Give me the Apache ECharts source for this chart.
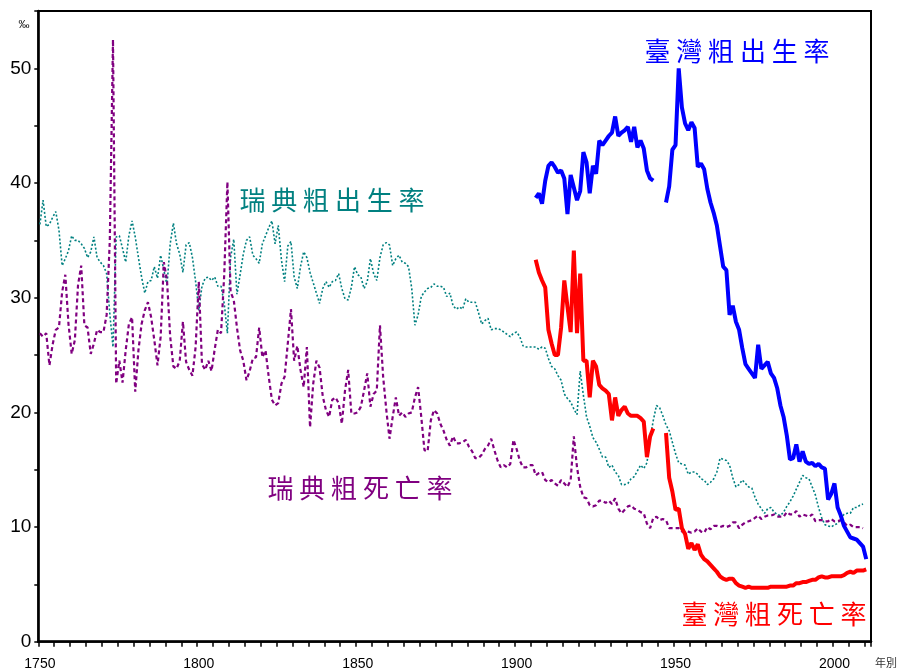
<!DOCTYPE html>
<html><head><meta charset="utf-8">
<script src="https://cdn.jsdelivr.net/npm/echarts@6/dist/echarts.min.js"></script>
<style>html,body{margin:0;padding:0;background:#fff}#c{width:899px;height:671px}</style>
</head><body><div id="c"></div>
<script>
// ---- categories (years) ----
const firstYear = 1750;
const lastYear = 2011;

// ---- Sweden crude birth rate (per mille), 1750-2009 ----
const swedenStart = 1750;
const swedenBirth = [
  36.4, 38.5, 36.2, 36.4, 37.0, 37.5, 35.9, 32.8, 33.4, 34.1,
  35.4, 35.0, 35.0, 34.7, 34.3, 33.5, 34.0, 35.3, 33.5, 33.1,
  32.8, 32.1, 28.6, 25.7, 35.3, 35.4, 34.3, 33.1, 35.4, 36.7,
  35.3, 33.5, 31.8, 30.4, 31.4, 31.5, 32.7, 31.7, 33.7, 32.4,
  31.1, 34.7, 36.5, 34.7, 33.8, 32.2, 34.6, 34.8, 33.5, 31.4,
  28.9, 31.0, 31.7, 31.8, 31.5, 31.8, 31.0, 31.0, 29.5, 26.9,
  33.5, 35.1, 30.3, 32.0, 33.8, 35.0, 35.3, 33.7, 33.4, 33.0,
  34.7, 35.4, 36.1, 36.7, 34.7, 36.3, 33.3, 31.4, 34.5, 34.9,
  31.8, 30.8, 32.7, 34.0, 33.5, 32.2, 31.3, 30.4, 29.5, 30.8,
  31.4, 30.9, 31.4, 31.5, 32.1, 30.8, 29.9, 29.8, 30.9, 32.7,
  32.0, 31.8, 30.8, 31.4, 33.4, 32.1, 31.5, 33.5, 34.6, 34.8,
  34.6, 32.8, 33.4, 33.7, 33.1, 33.0, 32.7, 30.8, 27.6, 28.5,
  30.1, 30.5, 30.8, 30.9, 31.2, 31.0, 31.0, 30.9, 30.1, 30.4,
  29.3, 29.0, 29.2, 29.0, 29.9, 29.6, 29.6, 29.6, 28.7, 27.7,
  28.0, 28.2, 27.2, 27.3, 27.3, 27.2, 27.0, 26.8, 26.6, 26.9,
  27.0, 26.6, 25.8, 25.7, 25.7, 25.7, 25.7, 25.5, 25.7, 25.6,
  24.7, 24.0, 23.8, 23.2, 22.8, 21.6, 21.2, 20.9, 20.3, 19.8,
  23.6, 21.5, 19.6, 18.8, 17.8, 17.4, 16.8, 16.1, 16.1, 15.2,
  15.4, 14.8, 14.5, 13.7, 13.7, 13.8, 14.2, 14.4, 14.9, 15.4,
  15.1, 15.6, 17.7, 19.3, 20.6, 20.4, 19.7, 18.9, 18.4, 17.4,
  16.4, 15.6, 15.5, 15.4, 14.6, 14.8, 14.8, 14.6, 14.2, 14.1,
  13.7, 13.9, 14.2, 14.8, 16.0, 15.9, 15.8, 15.4, 14.3, 13.5,
  13.7, 14.1, 13.8, 13.5, 13.4, 12.6, 12.0, 11.6, 11.2, 11.6,
  11.7, 11.3, 11.1, 11.0, 11.3, 11.8, 12.2, 12.7, 13.3, 13.9,
  14.5, 14.3, 14.2, 13.5, 12.8, 11.7, 10.8, 10.2, 10.1, 10.0,
  10.2, 10.3, 10.7, 11.1, 11.2, 11.2, 11.7, 11.7, 11.9, 12.0
];

// ---- Sweden crude death rate (per mille), 1750-2009 ----
const swedenDeath = [
  26.9, 26.6, 26.9, 24.1, 25.9, 27.2, 27.4, 30.5, 32.0, 27.7,
  25.1, 26.3, 31.1, 32.8, 27.6, 27.4, 25.1, 26.0, 27.2, 27.0,
  27.0, 28.5, 35.0, 52.5, 22.5, 24.5, 22.6, 25.4, 27.7, 28.3,
  21.8, 25.4, 27.7, 28.9, 29.6, 28.3, 26.3, 24.1, 26.6, 33.1,
  31.5, 26.6, 24.0, 23.8, 24.5, 27.9, 24.4, 23.7, 23.2, 25.7,
  31.4, 24.2, 23.7, 24.5, 23.6, 25.5, 27.2, 26.9, 32.0, 40.1,
  30.5, 29.8, 27.4, 25.4, 24.5, 22.8, 23.6, 24.7, 24.8, 27.4,
  24.8, 25.4, 23.1, 21.1, 20.6, 20.8, 22.5, 23.1, 26.0, 29.0,
  24.5, 25.8, 23.7, 22.2, 25.7, 18.7, 22.5, 24.5, 23.9, 21.4,
  20.2, 19.6, 21.1, 21.3, 20.8, 19.0, 21.9, 23.7, 19.9, 19.9,
  20.0, 20.5, 21.9, 23.4, 20.5, 21.6, 21.9, 27.6, 23.1, 20.2,
  17.7, 19.6, 21.3, 19.7, 20.0, 19.6, 19.9, 20.0, 21.3, 22.2,
  19.6, 16.7, 16.6, 19.3, 20.2, 19.9, 19.0, 18.4, 17.6, 17.1,
  17.9, 17.3, 17.3, 17.4, 17.6, 17.0, 16.6, 16.0, 16.0, 16.3,
  16.8, 17.1, 17.7, 16.7, 15.8, 15.2, 15.4, 15.2, 15.5, 17.6,
  16.8, 15.8, 15.2, 15.2, 15.4, 15.4, 14.5, 14.7, 14.8, 14.1,
  13.9, 14.1, 13.8, 13.6, 14.1, 13.8, 13.5, 14.1, 17.9, 15.2,
  13.5, 12.6, 12.5, 11.9, 11.8, 11.9, 12.3, 12.3, 12.1, 12.3,
  12.0, 12.5, 11.6, 11.2, 11.5, 11.8, 11.9, 11.6, 11.5, 11.3,
  11.2, 10.3, 9.9, 10.8, 10.9, 10.6, 10.7, 10.6, 9.9, 9.9,
  9.9, 9.9, 9.6, 9.7, 9.6, 9.5, 9.6, 9.9, 9.6, 9.5,
  10.0, 9.8, 10.1, 10.1, 10.0, 10.1, 10.0, 10.1, 10.4, 10.4,
  9.9, 10.2, 10.4, 10.5, 10.6, 10.8, 11.0, 10.7, 10.9, 11.0,
  11.0, 11.1, 10.9, 10.9, 10.9, 11.3, 11.1, 11.1, 11.4, 10.9,
  11.1, 11.0, 10.9, 11.1, 10.5, 10.6, 10.6, 10.5, 10.5, 10.7,
  10.5, 10.5, 10.6, 10.4, 10.1, 10.2, 10.0, 10.0, 10.0, 9.9
];

// ---- Taiwan, 1906-1943 ----
const taiwanPrewarStart = 1906;
const taiwanBirthPrewar = [
  38.7, 39.1, 38.2, 40.2, 41.5, 41.8, 41.4, 40.9, 41.1, 40.4,
  37.3, 40.7, 39.6, 38.5, 39.3, 42.7, 41.8, 39.1, 41.5, 40.8,
  43.7, 43.3, 43.7, 44.1, 44.4, 45.8, 44.1, 44.4, 44.6, 44.9,
  43.6, 44.9, 43.1, 43.7, 43.0, 41.1, 40.4, 40.2
];
const taiwanDeathPrewar = [
  33.3, 32.2, 31.5, 30.9, 27.2, 26.0, 25.0, 25.0, 27.4, 31.5,
  29.2, 27.0, 34.1, 26.9, 32.1, 24.5, 24.5, 21.3, 24.5, 24.0,
  22.4, 22.1, 21.9, 21.6, 19.3, 21.3, 19.7, 20.2, 20.5, 19.9,
  19.7, 19.7, 19.7, 19.5, 19.2, 16.1, 17.9, 18.6
];

// ---- Taiwan, 1947-2010 ----
const taiwanPostwarStart = 1947;
const taiwanBirthPostwar = [
  38.3, 39.7, 42.9,
  43.3, 50.0, 46.6, 45.2, 44.6, 45.3, 44.8, 41.4, 41.7, 41.2,
  39.5, 38.3, 37.4, 36.3, 34.5, 32.7, 32.4, 28.5, 29.3, 27.9,
  27.2, 25.6, 24.2, 23.8, 23.4, 23.0, 25.9, 23.8, 24.1, 24.4,
  23.4, 23.0, 22.1, 20.6, 19.6, 18.0, 15.9, 16.0, 17.2, 15.7,
  16.6, 15.7, 15.5, 15.6, 15.3, 15.5, 15.2, 15.1, 12.4, 12.9,
  13.8, 11.7, 11.0, 10.1, 9.6, 9.1, 9.0, 8.9, 8.6, 8.3,
  7.2
];
const taiwanDeathPostwar = [
  18.2, 14.3, 13.1,
  11.5, 11.6, 9.9, 9.4, 8.1, 8.6, 8.0, 8.5, 7.6, 7.2,
  7.0, 6.7, 6.4, 6.1, 5.7, 5.5, 5.4, 5.5, 5.5, 5.1,
  4.9, 4.8, 4.7, 4.8, 4.7, 4.7, 4.7, 4.7, 4.7, 4.7,
  4.8, 4.8, 4.8, 4.8, 4.8, 4.8, 4.9, 4.9, 5.1, 5.1,
  5.2, 5.2, 5.3, 5.4, 5.4, 5.6, 5.7, 5.6, 5.6, 5.7,
  5.7, 5.7, 5.7, 5.8, 6.0, 6.1, 6.0, 6.2, 6.2, 6.2,
  6.3
];

// ---- texts ----
const seriesNames = ['瑞典粗出生率', '瑞典粗死亡率', '臺灣粗出生率', '臺灣粗死亡率'];
const yUnit = '‰';
const xUnit = '年別';

// ---- build aligned data ----
const years = [];
for (let y = firstYear; y <= lastYear; y++) years.push(String(y));
function align(start, values) {
  return years.map(function (y) {
    const i = Number(y) - start;
    return (i >= 0 && i < values.length) ? values[i] : null;
  });
}
function combine(a, b) { return a.map(function (v, i) { return v != null ? v : b[i]; }); }

const dSweBirth = align(swedenStart, swedenBirth);
const dSweDeath = align(swedenStart, swedenDeath);
const dTwBirth = combine(align(taiwanPrewarStart, taiwanBirthPrewar), align(taiwanPostwarStart, taiwanBirthPostwar));
const dTwDeath = combine(align(taiwanPrewarStart, taiwanDeathPrewar), align(taiwanPostwarStart, taiwanDeathPostwar));

const spaced = function (s) { return s.split('').join(' '); };
const cjk = '"Noto Sans CJK TC", "Noto Sans CJK SC", sans-serif';
const latin = '"Liberation Sans", Arial, sans-serif';

function label(text, x, y, color) {
  return { type: 'text', x: x, y: y, z: 100,
    style: { text: spaced(text), fill: color, font: '26px ' + cjk,
      textAlign: 'center', textVerticalAlign: 'middle', align: 'center', verticalAlign: 'middle' } };
}

const chart = echarts.init(document.getElementById('c'), null, { renderer: 'canvas' });
chart.setOption({
  animation: false,
  backgroundColor: '#fff',
  grid: { left: 38.3, right: 28, top: 11, bottom: 29.3, show: true, borderColor: '#000', borderWidth: 2, backgroundColor: 'transparent' },
  xAxis: {
    type: 'category', data: years, boundaryGap: true,
    axisLine: { lineStyle: { color: '#000', width: 2.5 } },
    axisTick: { show: true, interval: 4, length: 5, lineStyle: { color: '#000', width: 1.5 } },
    axisLabel: { interval: 49, color: '#000', fontSize: 14, fontFamily: latin, margin: 15 },
    splitLine: { show: false }
  },
  yAxis: {
    type: 'value', min: 0, max: 55, interval: 5,
    axisLine: { show: true, lineStyle: { color: '#000', width: 2.5 } },
    axisTick: { show: true, length: 4, lineStyle: { color: '#000', width: 1.5 } },
    axisLabel: { color: '#000', fontSize: 19, fontFamily: latin, margin: 7,
      formatter: function (v) { return v % 10 === 0 ? String(v) : ''; } },
    splitLine: { show: false }
  },
  series: [
    { name: seriesNames[0], type: 'line', data: dSweBirth, symbol: 'none', connectNulls: false,
      lineStyle: { color: '#008080', width: 1.6, type: [2, 2] } },
    { name: seriesNames[1], type: 'line', data: dSweDeath, symbol: 'none', connectNulls: false,
      lineStyle: { color: '#800080', width: 2.2, type: [4, 3] } },
    { name: seriesNames[2], type: 'line', data: dTwBirth, symbol: 'none', connectNulls: false,
      lineStyle: { color: '#0000FF', width: 4 } },
    { name: seriesNames[3], type: 'line', data: dTwDeath, symbol: 'none', connectNulls: false,
      lineStyle: { color: '#FF0000', width: 4 } }
  ],
  graphic: [
    label(seriesNames[2], 737, 51, '#0000FF'),
    label(seriesNames[0], 332, 200, '#008080'),
    label(seriesNames[1], 360, 488, '#800080'),
    label(seriesNames[3], 774, 614, '#FF0000'),
    { type: 'text', x: 24, y: 25, style: { text: yUnit, fill: '#000', font: '11px ' + latin, textAlign: 'center', textVerticalAlign: 'middle', align: 'center', verticalAlign: 'middle' } },
    { type: 'text', x: 886, y: 663, style: { text: xUnit, fill: '#333', font: '11px ' + cjk, textAlign: 'center', textVerticalAlign: 'middle', align: 'center', verticalAlign: 'middle' } }
  ]
});
</script>
</body></html>
